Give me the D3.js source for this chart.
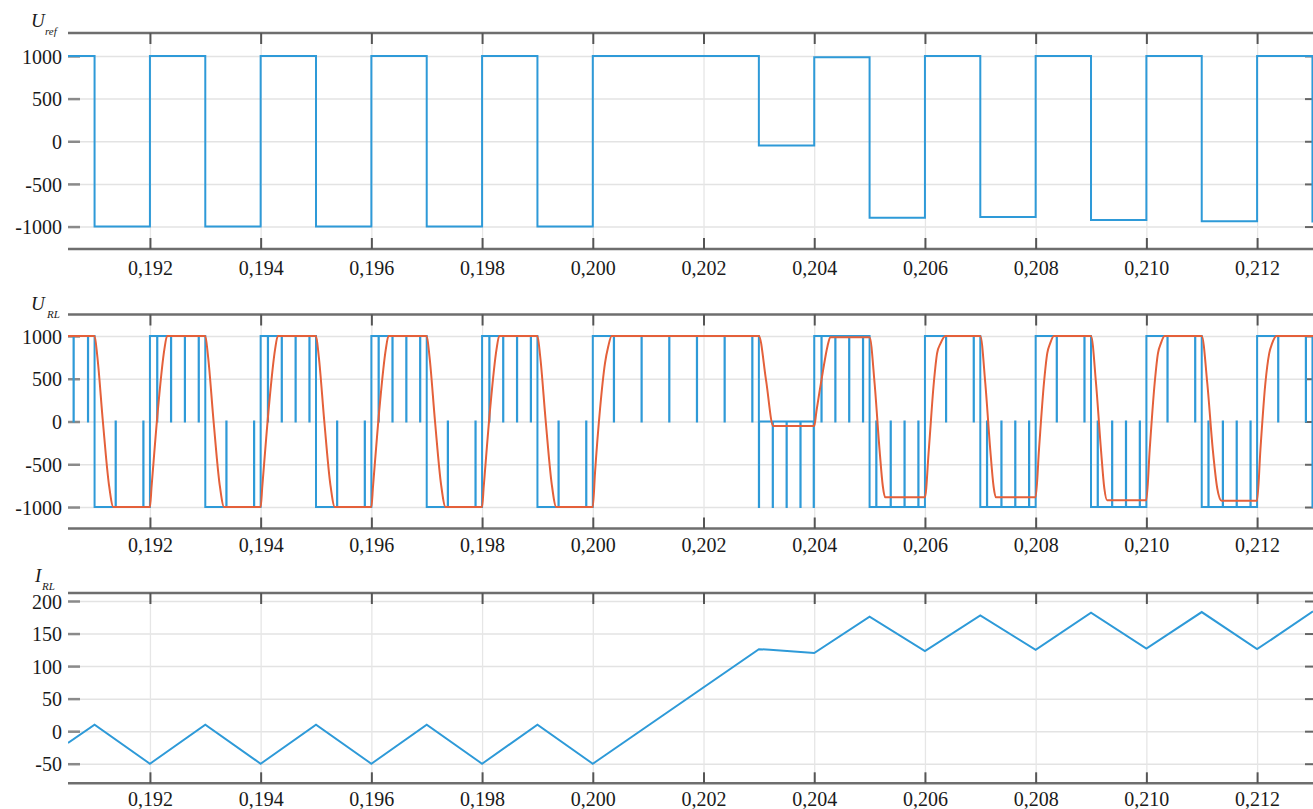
<!DOCTYPE html>
<html><head><meta charset="utf-8">
<script src="https://cdn.jsdelivr.net/npm/d3@7"></script>
<style>
body{margin:0;background:#fff}
svg{display:block}
text{font-family:"Liberation Serif","Times New Roman",serif;fill:#1a1a1a}
</style>
</head><body>
<svg id="c" width="1313" height="809" font-family="Liberation Serif, Times New Roman, serif"></svg>
<script>
// ---------- data ----------
const xTicks = [0.192,0.194,0.196,0.198,0.200,0.202,0.204,0.206,0.208,0.210,0.212];
const xTickLabels = ["0,192","0,194","0,196","0,198","0,200","0,202","0,204","0,206","0,208","0,210","0,212"];
const uTicks = [-1000,-500,0,500,1000];
const iTicks = [-50,0,50,100,150,200];

// U_ref step signal: segment start times and levels
const refT = [0.19052,0.191,0.192,0.193,0.194,0.195,0.196,0.197,0.198,0.199,0.200,0.203,0.204,0.205,0.206,0.207,0.208,0.209,0.210,0.211,0.212,0.213,0.21301];
const refV = [1000,-1000,1000,-1000,1000,-1000,1000,-1000,1000,-1000,1000,-50,985,-898,1000,-887,1000,-922,1000,-938,1000,-940];

// U_RL PWM: base level per segment (same boundaries as refT) and short pulses
const pwmBase = [1000,-1000,1000,-1000,1000,-1000,1000,-1000,1000,-1000,1000,0,1000,-1000,1000,-1000,1000,-1000,1000,-1000,1000,-1000];
const pulseT = [0.19062,0.19088,
  0.19138,0.19188,
  0.19213,0.19238,0.19263,0.19288,
  0.19338,0.19388,
  0.19413,0.19438,0.19463,0.19488,
  0.19538,0.19588,
  0.19613,0.19638,0.19663,0.19688,
  0.19738,0.19788,
  0.19813,0.19838,0.19863,0.19888,
  0.19938,0.19988,
  0.20038,0.20088,0.20138,0.20188,0.20238,0.20288,
  0.20300,0.20325,0.20350,0.20375,0.20399,
  0.20413,0.20438,0.20463,0.20488,
  0.20512,0.20538,0.20563,0.20588,
  0.20638,0.20688,
  0.20712,0.20738,0.20763,0.20788,
  0.20838,0.20888,
  0.20912,0.20938,0.20963,0.20988,
  0.21038,0.21088,
  0.21112,0.21138,0.21163,0.21188,
  0.21238,0.21288];
const pulseV = [0,0, 0,0, 0,0,0,0, 0,0, 0,0,0,0, 0,0, 0,0,0,0, 0,0, 0,0,0,0, 0,0,
  0,0,0,0,0,0,
  -1000,-1000,-1000,-1000,-1000,
  0,0,0,0, 0,0,0,0, 0,0, 0,0,0,0, 0,0, 0,0,0,0, 0,0, 0,0,0,0, 0,0];

// U_RL filtered (red)
const redT = [0.19052,
  0.19100,0.19105,0.19115,0.19126,0.19134,
  0.19200,0.19203,0.19215,0.19226,0.19231,
  0.19300,0.19305,0.19315,0.19326,0.19334,
  0.19400,0.19403,0.19415,0.19426,0.19431,
  0.19500,0.19505,0.19515,0.19526,0.19534,
  0.19600,0.19603,0.19615,0.19626,0.19631,
  0.19700,0.19705,0.19715,0.19726,0.19734,
  0.19800,0.19803,0.19815,0.19826,0.19831,
  0.19900,0.19905,0.19915,0.19926,0.19934,
  0.20000,0.20004,0.20013,0.20022,0.20028,0.20034,
  0.20300,0.20313,0.20326,
  0.20400,0.20404,0.20415,0.20424,0.20429,
  0.20500,0.20509,0.20518,0.20524,0.20528,
  0.20600,0.20607,0.20616,0.20622,0.20628,0.20637,
  0.20700,0.20709,0.20718,0.20724,0.20728,
  0.20800,0.20806,0.20815,0.20821,0.20826,0.20833,
  0.20900,0.20909,0.20918,0.20924,0.20929,
  0.21000,0.21006,0.21015,0.21021,0.21026,0.21033,
  0.21100,0.21110,0.21120,0.21128,0.21136,
  0.21200,0.21206,0.21215,0.21222,0.21227,0.21235,
  0.21301];
const redV = [1000,
  1000,760,0,-740,-1000,
  -1000,-760,180,840,1000,
  1000,760,0,-740,-1000,
  -1000,-760,180,840,1000,
  1000,760,0,-740,-1000,
  -1000,-760,180,840,1000,
  1000,760,0,-740,-1000,
  -1000,-760,180,840,1000,
  1000,760,0,-740,-1000,
  -1000,-600,140,680,880,1000,
  1000,480,-53,
  -53,120,560,880,985,
  985,450,-330,-760,-886,
  -886,-330,450,800,910,1000,
  1000,450,-330,-760,-886,
  -886,-330,450,800,910,1000,
  1000,450,-330,-780,-920,
  -920,-330,450,800,910,1000,
  1000,450,-330,-780,-927,
  -927,-330,450,800,910,1000,
  1000];

// I_RL current
const iT = [0.19052,0.191,0.192,0.193,0.194,0.195,0.196,0.197,0.198,0.199,0.200,0.203,0.2032,0.204,0.205,0.206,0.207,0.208,0.209,0.210,0.211,0.212,0.21301];
const iV = [-18,10,-50,10,-50,10,-50,10,-50,10,-50,126,125,120,176,123,178,125,182,127,183,126,184];

// ---------- drawing ----------
const svg = d3.select("#c");
const L = 68, R = 1313;
const FONT = "Liberation Serif, Times New Roman, serif";
const x = d3.scaleLinear().domain([0.19052, 0.21301]).range([L, R]);

const BLUE = "#2e9ad8", RED = "#e4603a";

function panel(cfg){
  const g = svg.append("g");
  const y = d3.scaleLinear().domain(cfg.yDomain).range([cfg.bottom, cfg.top]);
  const clipId = "clip" + cfg.id;
  svg.append("clipPath").attr("id", clipId).append("rect")
    .attr("x", L).attr("y", cfg.top - 2).attr("width", R - L).attr("height", cfg.bottom - cfg.top + 4);

  // horizontal grid
  g.append("g").attr("transform", `translate(${L},0)`)
    .call(d3.axisLeft(y).tickValues(cfg.yTicks).tickSize(-(R - L)).tickFormat(""))
    .call(s => s.select(".domain").remove())
    .selectAll("line").attr("stroke", "#e3e3e3").attr("stroke-width", 1.5);
  // vertical grid
  g.append("g").attr("transform", `translate(0,${cfg.bottom})`)
    .call(d3.axisBottom(x).tickValues(xTicks).tickSize(-(cfg.bottom - cfg.top)).tickFormat(""))
    .call(s => s.select(".domain").remove())
    .selectAll("line").attr("stroke", "#e6e6e6").attr("stroke-width", 1.3);

  // frame lines (top & bottom)
  g.append("line").attr("x1", L).attr("x2", R).attr("y1", cfg.top).attr("y2", cfg.top)
    .attr("stroke", "#6e6e6e").attr("stroke-width", 2.5);
  g.append("line").attr("x1", L).attr("x2", R).attr("y1", cfg.bottom).attr("y2", cfg.bottom)
    .attr("stroke", "#6e6e6e").attr("stroke-width", 2.5);

  // top x ticks pointing down
  g.append("g").attr("transform", `translate(0,${cfg.top})`)
    .call(d3.axisTop(x).tickValues(xTicks).tickSize(-11).tickFormat(""))
    .call(s => s.select(".domain").remove())
    .selectAll("line").attr("stroke", "#555").attr("stroke-width", 2);
  // bottom x ticks pointing up, with labels
  const xa = g.append("g").attr("transform", `translate(0,${cfg.bottom})`)
    .call(d3.axisBottom(x).tickValues(xTicks).tickSize(-11).tickFormat((d, i) => xTickLabels[i]))
    .attr("font-family", FONT).attr("font-size", 20)
    .call(s => s.select(".domain").remove());
  xa.selectAll("line").attr("stroke", "#555").attr("stroke-width", 2);
  xa.selectAll("text").attr("y", cfg.labelBase - cfg.bottom).attr("dy", null)
    .attr("font-size", 20).attr("fill", "#1a1a1a").attr("font-family", FONT);

  // left y ticks + labels
  const ya = g.append("g").attr("transform", `translate(${L + 12},0)`)
    .call(d3.axisLeft(y).tickValues(cfg.yTicks).tickSize(12).tickPadding(6).tickFormat(d => String(d)))
    .attr("font-family", FONT).attr("font-size", 20)
    .call(s => s.select(".domain").remove());
  ya.selectAll("line").attr("stroke", "#8a8a8a").attr("stroke-width", 2.5);
  ya.selectAll("text").attr("dy", "0.36em").attr("font-size", 20).attr("fill", "#1a1a1a").attr("font-family", FONT);
  // right y ticks
  g.append("g").attr("transform", `translate(${R - 8},0)`)
    .call(d3.axisRight(y).tickValues(cfg.yTicks).tickSize(8).tickFormat(""))
    .call(s => s.select(".domain").remove())
    .selectAll("line").attr("stroke", "#666").attr("stroke-width", 2);

  // title
  g.append("text").attr("x", cfg.titleX).attr("y", cfg.titleY).attr("font-family", FONT)
    .attr("font-style", "italic").attr("font-size", 19).text(cfg.title);
  g.append("text").attr("x", cfg.subX).attr("y", cfg.titleY + cfg.subDy).attr("font-family", FONT)
    .attr("font-style", "italic").attr("font-size", 11).text(cfg.sub);

  const plot = g.append("g").attr("clip-path", `url(#${clipId})`);
  return {y, plot};
}

// Panel 1: U_ref
const p1 = panel({id:1, top:33, bottom:249, yDomain:[-1263,1269], yTicks:uTicks, labelBase:275,
  title:"U", sub:"ref", titleX:31, titleY:27, subX:45, subDy:8});
const refPts = refT.map((t, i) => [t, i < refV.length ? refV[i] : refV[refV.length - 1]]);
p1.plot.append("path")
  .attr("d", d3.line().x(d => x(d[0])).y(d => p1.y(d[1])).curve(d3.curveStepAfter)(refPts))
  .attr("fill", "none").attr("stroke", BLUE).attr("stroke-width", 2);

// Panel 2: U_RL
const p2 = panel({id:2, top:314.5, bottom:528.5, yDomain:[-1251,1251], yTicks:uTicks, labelBase:552,
  title:"U", sub:"RL", titleX:31, titleY:310, subX:47, subDy:8});
function baseAt(t){
  let k = 0;
  for (let i = 0; i < pwmBase.length; i++) if (refT[i] <= t) k = i;
  return pwmBase[k];
}
const events = [];
refT.forEach((t, i) => events.push({t, v: i < pwmBase.length ? pwmBase[i] : pwmBase[pwmBase.length - 1], o: 0}));
pulseT.forEach((t, i) => {
  events.push({t, v: pulseV[i], o: 1});
  events.push({t: t + 0.000004, v: baseAt(t), o: 2});
});
events.sort((a, b) => a.t - b.t || a.o - b.o);
p2.plot.append("path")
  .attr("d", d3.line().x(d => x(d.t)).y(d => p2.y(d.v)).curve(d3.curveStepAfter)(events))
  .attr("fill", "none").attr("stroke", BLUE).attr("stroke-width", 2);
p2.plot.append("path")
  .attr("d", d3.line().x((d, i) => x(redT[i])).y((d, i) => p2.y(redV[i])).curve(d3.curveMonotoneX)(redT))
  .attr("fill", "none").attr("stroke", RED).attr("stroke-width", 2);

// Panel 3: I_RL
const p3 = panel({id:3, top:593, bottom:783.3, yDomain:[-80.1,212.3], yTicks:iTicks, labelBase:806,
  title:"I", sub:"RL", titleX:35, titleY:582, subX:42, subDy:8});
p3.plot.append("path")
  .attr("d", d3.line().x((d, i) => x(iT[i])).y((d, i) => p3.y(iV[i]))(iT))
  .attr("fill", "none").attr("stroke", BLUE).attr("stroke-width", 2);
</script>
</body></html>
